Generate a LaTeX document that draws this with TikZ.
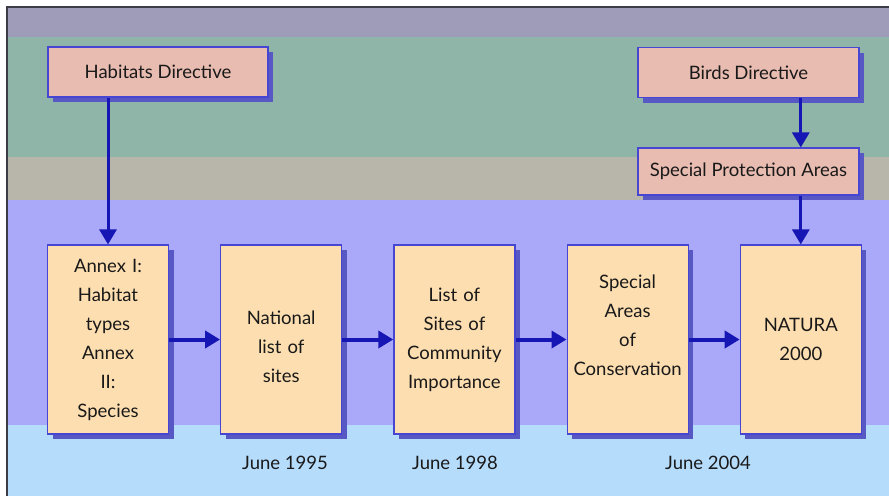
\documentclass[tikz,border=0pt]{standalone}
\usepackage{fontspec}
\setmainfont{Lato}
\usetikzlibrary{positioning,shadows,arrows.meta}

\definecolor{bandtop}{RGB}{158,156,184}
\definecolor{bandgreen}{RGB}{143,181,168}
\definecolor{bandtan}{RGB}{184,182,170}
\definecolor{bandlilac}{RGB}{170,168,248}
\definecolor{bandsky}{RGB}{182,220,252}
\definecolor{pinkfill}{RGB}{232,188,176}
\definecolor{peachfill}{RGB}{253,222,176}
\definecolor{boxline}{RGB}{70,70,210}
\definecolor{shadowblue}{RGB}{88,88,196}
\definecolor{arrowblue}{RGB}{22,22,180}
\definecolor{framegrey}{RGB}{60,60,70}
\definecolor{inkgrey}{RGB}{25,25,25}

\begin{document}
\begin{tikzpicture}[
		x=1pt, y=-1pt,
		node distance=51pt,
		every node/.style={font=\fontsize{18.5}{29}\selectfont, text=inkgrey},
		dirbox/.style={rectangle, draw=boxline, line width=1.2pt, fill=pinkfill,
			drop shadow={shadow xshift=5pt, shadow yshift=-5pt, fill=shadowblue, opacity=1}},
		stagebox/.style={dirbox, fill=peachfill, minimum width=121pt, minimum height=189pt,
			text width=118pt, align=center, inner sep=0pt},
		arrow/.style={-{Triangle[length=15pt,width=17pt]}, line width=4pt, draw=arrowblue}
	]

	\useasboundingbox (0,0) rectangle (889,496);

	% Background bands
	\fill[white] (0,0) rectangle (889,496);
	\fill[bandtop] (7,7) rectangle (889,37);
	\fill[bandgreen] (7,37) rectangle (889,157);
	\fill[bandtan] (7,157) rectangle (889,200);
	\fill[bandlilac] (7,200) rectangle (889,425);
	\fill[bandsky] (7,425) rectangle (889,496);
	\draw[framegrey, line width=2.5pt] (7,496) -- (7,7) -- (889,7);

	% Nodes
	\node[dirbox, minimum width=220pt, minimum height=50pt] (HD) at (158,72) {Habitats Directive};
	\node[dirbox, minimum width=221pt, minimum height=50pt] (BD) at (748.5,72.5) {Birds Directive};
	\node[dirbox, minimum width=221pt, minimum height=47pt] (SPA) at (748.5,171.5) {Special Protection Areas};

	\node[stagebox] (AX) at (108,339.5) {Annex I:\\Habitat\\types\\Annex\\II:\\Species};
	\node[stagebox, right=of AX] (NL) {\mbox{}\\National\\list of\\sites};
	\node[stagebox, right=of NL] (SCI) {List of\\Sites of\\Community\\Importance};
	\node[stagebox, right=of SCI] (SAC) {Special\\Areas\\of\\Conservation\\\mbox{}};
	\node[stagebox, right=of SAC] (NAT) {NATURA\\2000};

	\node (d95) at (285,463) {June 1995};
	\node (d98) at (455,463) {June 1998};
	\node (d04) at (708,463) {June 2004};

	% Arrows
	\draw[arrow, line width=3pt] (HD.south -| AX) -- (AX.north);
	\draw[arrow, line width=3pt] (BD.south -| NAT) -- (SPA.north -| NAT);
	\draw[arrow, line width=3pt] (SPA.south -| NAT) -- (NAT.north);

	\draw[arrow] (AX) -- (NL);
	\draw[arrow] (NL) -- (SCI);
	\draw[arrow] (SCI) -- (SAC);
	\draw[arrow] (SAC) -- (NAT);

\end{tikzpicture}
\end{document}
